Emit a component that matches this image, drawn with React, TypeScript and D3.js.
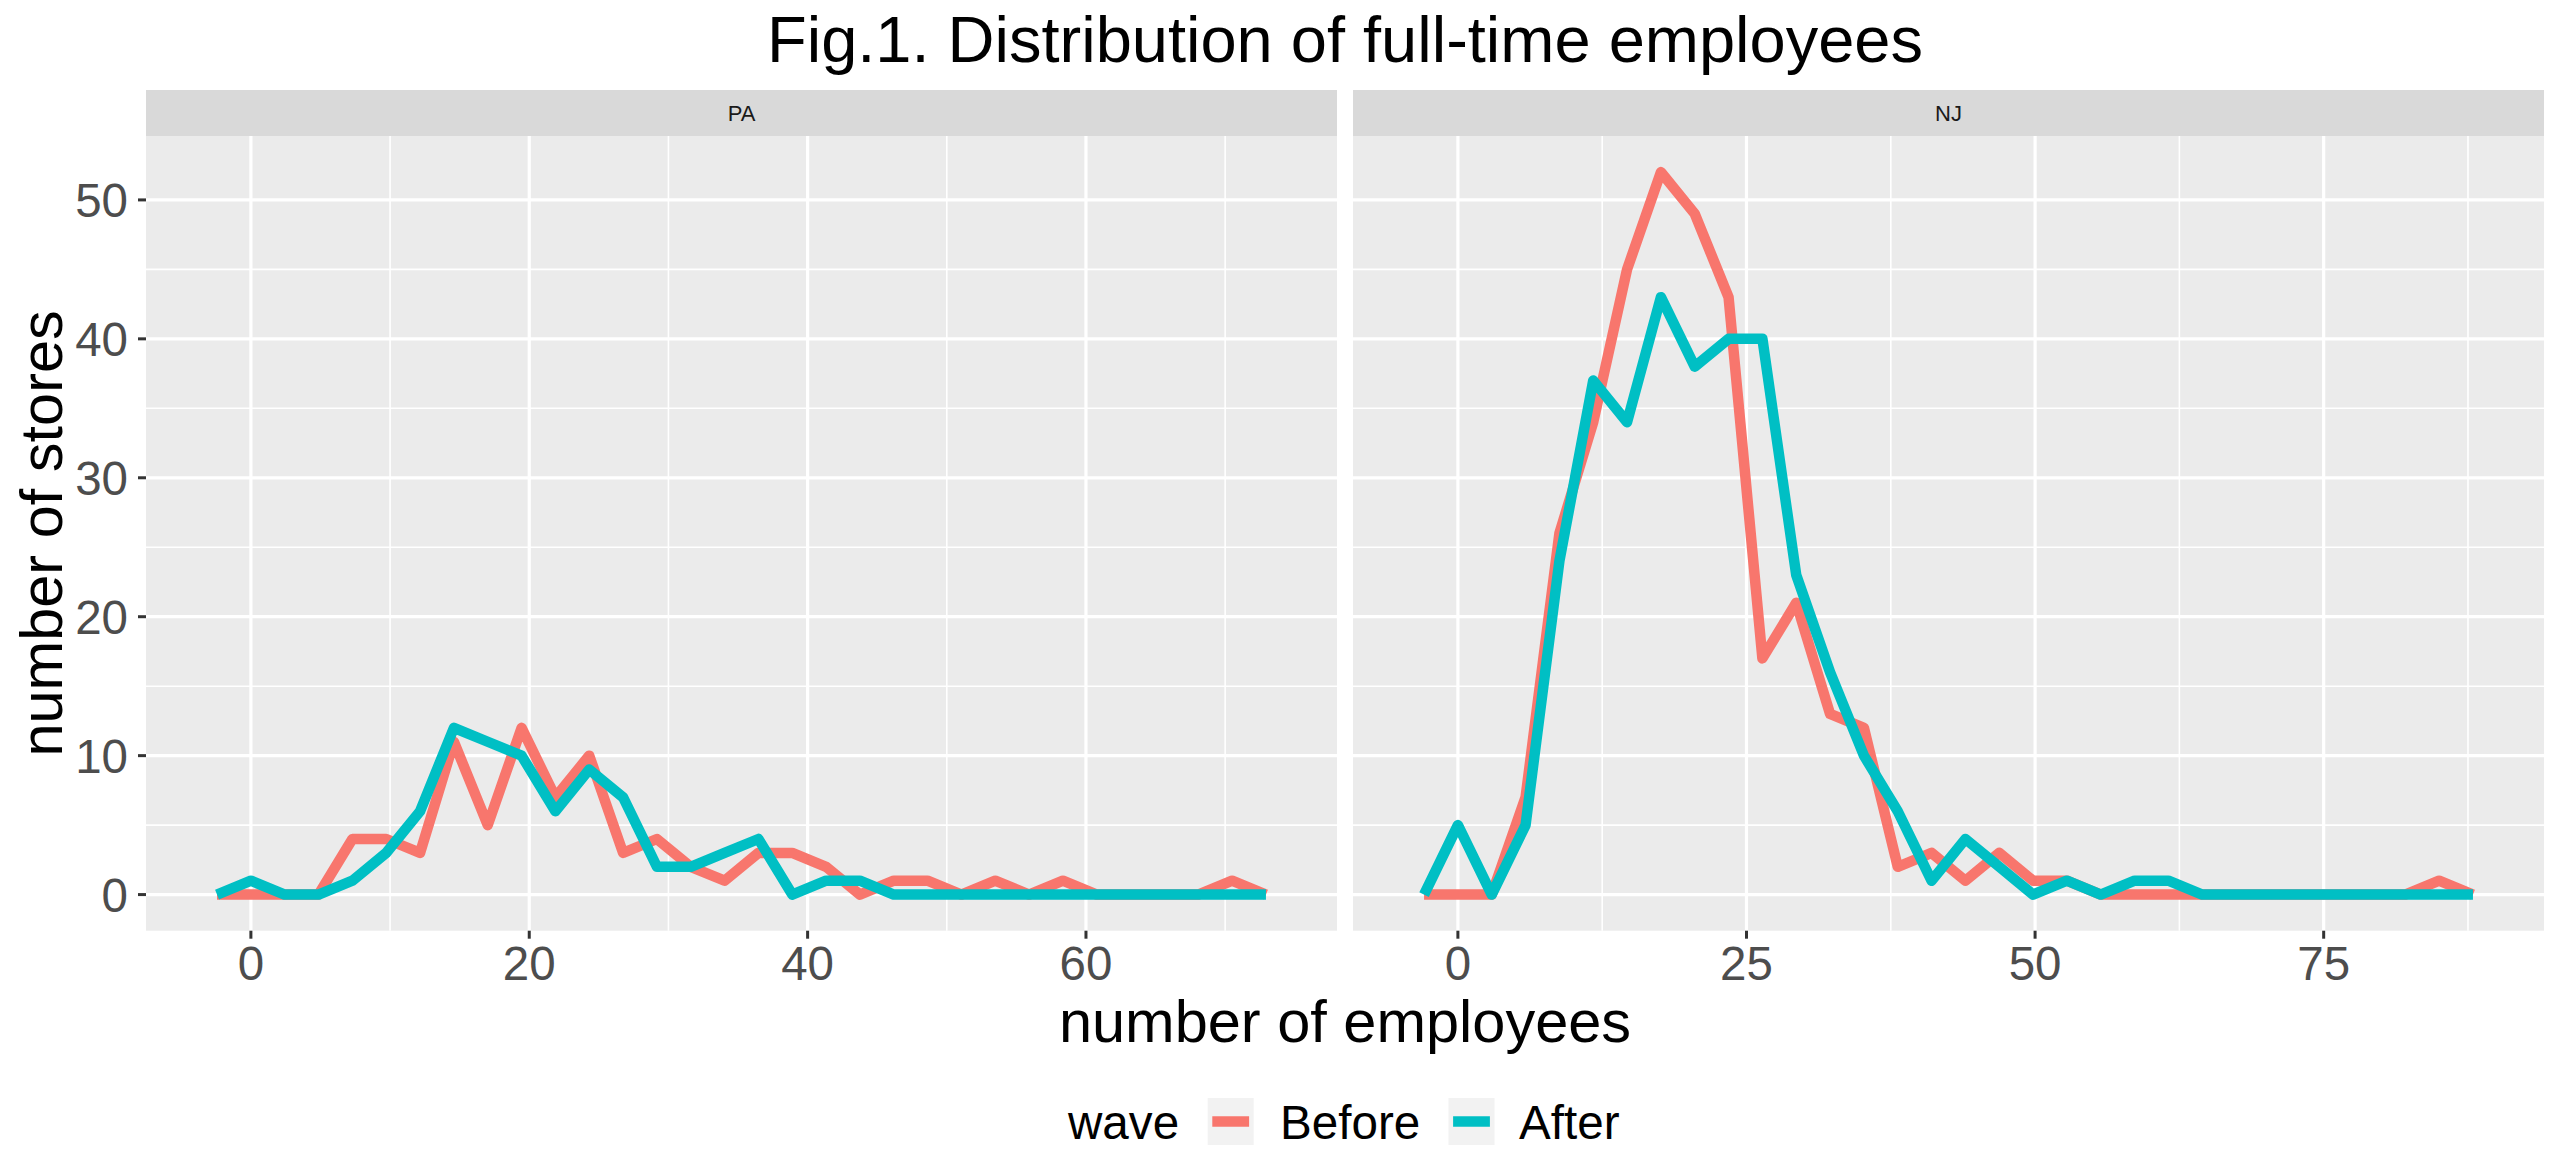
import React from "react";
import * as d3 from "d3";

// ---- data (counts per bin) ----
const WAVES = ["Before", "After"];
const STATES = ["PA", "NJ"];
const PA_RANGE = [0, 70.5];
const NJ_RANGE = [0, 85];
const BINS = 30;
const PA_BEFORE = [0, 0, 0, 0, 4, 4, 3, 11, 5, 12, 7, 10, 3, 4, 2, 1, 3, 3, 2, 0, 1, 1, 0, 1, 0, 1, 0, 0, 0, 0, 1, 0];
const PA_AFTER = [0, 1, 0, 0, 1, 3, 6, 12, 11, 10, 6, 9, 7, 2, 2, 3, 4, 0, 1, 1, 0, 0, 0, 0, 0, 0, 0, 0, 0, 0, 0, 0];
const NJ_BEFORE = [0, 0, 0, 7, 26, 34, 45, 52, 49, 43, 17, 21, 13, 12, 2, 3, 1, 3, 1, 1, 0, 0, 0, 0, 0, 0, 0, 0, 0, 0, 1, 0];
const NJ_AFTER = [0, 5, 0, 5, 24, 37, 34, 43, 38, 40, 40, 23, 16, 10, 6, 1, 4, 2, 0, 1, 0, 1, 1, 0, 0, 0, 0, 0, 0, 0, 0, 0];
const PA_TICKS = [0, 20, 40, 60];
const NJ_TICKS = [0, 25, 50, 75];
const Y_TICKS = [0, 10, 20, 30, 40, 50];

const COLORS = ["#F8766D", "#00BFC4"];
const FONT = "'Liberation Sans', Arial, Helvetica, sans-serif";

// ---- layout ----
const W = 2560;
const H = 1176;
const PANEL_TOP = 136;
const PANEL_BOTTOM = 930.7;
const STRIP_TOP = 90;
const PANELS_X = [
  [146, 1337],
  [1353, 2544],
];

function binCenters(range: number[], n: number) {
  const w = (range[1] - range[0]) / (BINS - 1);
  return d3.range(n).map((i) => range[0] - w + i * w);
}

function xDomain(range: number[]) {
  const w = (range[1] - range[0]) / (BINS - 1);
  const lo = range[0] - 1.5 * w;
  const hi = range[1] + 1.5 * w;
  const e = (hi - lo) * 0.05;
  return [lo - e, hi + e];
}

const PANEL_DATA = [
  { state: STATES[0], range: PA_RANGE, series: [PA_BEFORE, PA_AFTER], ticks: PA_TICKS },
  { state: STATES[1], range: NJ_RANGE, series: [NJ_BEFORE, NJ_AFTER], ticks: NJ_TICKS },
];

export default function App() {
  const yMax = d3.max([...NJ_BEFORE, ...NJ_AFTER, ...PA_BEFORE, ...PA_AFTER]) as number;
  const yPad = yMax * 0.05;
  const y = d3.scaleLinear().domain([0 - yPad, yMax + yPad]).range([PANEL_BOTTOM, PANEL_TOP]);
  const yMinor = Y_TICKS.map((t) => t + 5).filter((t) => t < yMax + yPad);

  const panels = PANEL_DATA.map((p, pi) => {
    const [x0, x1] = PANELS_X[pi];
    const x = d3.scaleLinear().domain(xDomain(p.range)).range([x0, x1]);
    const dom = x.domain();
    const step = p.ticks[1] - p.ticks[0];
    const minor = d3
      .range(p.ticks[0] - step / 2, dom[1], step)
      .filter((t) => t > dom[0] && t < dom[1]);
    const xs = binCenters(p.range, p.series[0].length);
    const line = d3
      .line<number>()
      .x((_, i) => x(xs[i]))
      .y((v) => y(v));
    return { ...p, x, x0, x1, minor, line };
  });

  const titleX = (PANELS_X[0][0] + PANELS_X[1][1]) / 2;
  const midY = (PANEL_TOP + PANEL_BOTTOM) / 2;

  return (
    <div style={{ position: "absolute", left: 0, top: 0, width: W, height: H, overflow: "hidden", background: "#fff" }}>
      <style>{`body{margin:0;}`}</style>
      <svg width={W} height={H} style={{ display: "block", fontFamily: FONT }}>
        <rect x={0} y={0} width={W} height={H} fill="#FFFFFF" />
        <text x={titleX} y={62} textAnchor="middle" fontSize={65} fill="#000">
          Fig.1. Distribution of full-time employees
        </text>

        {panels.map((p, pi) => (
          <g key={p.state}>
            {/* strip */}
            <rect x={p.x0} y={STRIP_TOP} width={p.x1 - p.x0} height={PANEL_TOP - STRIP_TOP} fill="#D9D9D9" />
            <text x={(p.x0 + p.x1) / 2} y={121} textAnchor="middle" fontSize={22} fill="#1A1A1A">
              {p.state}
            </text>
            {/* panel background */}
            <rect x={p.x0} y={PANEL_TOP} width={p.x1 - p.x0} height={PANEL_BOTTOM - PANEL_TOP} fill="#EBEBEB" />
            {/* minor grid */}
            {yMinor.map((t) => (
              <line key={"ym" + t} x1={p.x0} x2={p.x1} y1={y(t)} y2={y(t)} stroke="#FFFFFF" strokeWidth={1.6} />
            ))}
            {p.minor.map((t) => (
              <line key={"xm" + t} x1={p.x(t)} x2={p.x(t)} y1={PANEL_TOP} y2={PANEL_BOTTOM} stroke="#FFFFFF" strokeWidth={1.6} />
            ))}
            {/* major grid */}
            {Y_TICKS.map((t) => (
              <line key={"yM" + t} x1={p.x0} x2={p.x1} y1={y(t)} y2={y(t)} stroke="#FFFFFF" strokeWidth={3.2} />
            ))}
            {p.ticks.map((t) => (
              <line key={"xM" + t} x1={p.x(t)} x2={p.x(t)} y1={PANEL_TOP} y2={PANEL_BOTTOM} stroke="#FFFFFF" strokeWidth={3.2} />
            ))}
            {/* series */}
            <g clipPath={`url(#clip${pi})`}>
              {p.series.map((s, si) => (
                <path
                  key={WAVES[si]}
                  d={p.line(s) || ""}
                  fill="none"
                  stroke={COLORS[si]}
                  strokeWidth={10.5}
                  strokeLinejoin="round"
                  strokeLinecap="butt"
                />
              ))}
            </g>
            <clipPath id={`clip${pi}`}>
              <rect x={p.x0} y={PANEL_TOP} width={p.x1 - p.x0} height={PANEL_BOTTOM - PANEL_TOP} />
            </clipPath>
            {/* x axis */}
            {p.ticks.map((t) => (
              <g key={"xt" + t}>
                <line x1={p.x(t)} x2={p.x(t)} y1={PANEL_BOTTOM} y2={PANEL_BOTTOM + 8} stroke="#333333" strokeWidth={3} />
                <text x={p.x(t)} y={980} textAnchor="middle" fontSize={47.5} fill="#4D4D4D">
                  {t}
                </text>
              </g>
            ))}
          </g>
        ))}

        {/* y axis (left panel only) */}
        {Y_TICKS.map((t) => (
          <g key={"yt" + t}>
            <line x1={PANELS_X[0][0] - 8} x2={PANELS_X[0][0]} y1={y(t)} y2={y(t)} stroke="#333333" strokeWidth={3} />
            <text x={128} y={y(t) + 17} textAnchor="end" fontSize={47.5} fill="#4D4D4D">
              {t}
            </text>
          </g>
        ))}

        {/* axis titles */}
        <text x={titleX} y={1042} textAnchor="middle" fontSize={59.5} fill="#000">
          number of employees
        </text>
        <text transform={`translate(61.7,${midY}) rotate(-90)`} textAnchor="middle" fontSize={59.5} fill="#000">
          number of stores
        </text>

        {/* legend */}
        <text x={1068} y={1139} fontSize={47.6} fill="#000">
          wave
        </text>
        {WAVES.map((wv, i) => {
          const kx = [1207.7, 1448.5][i];
          const tx = [1280, 1519][i];
          return (
            <g key={wv}>
              <rect x={kx} y={1098} width={46} height={47} fill="#F2F2F2" />
              <line x1={kx + 4.6} x2={kx + 46 - 4.6} y1={1121.5} y2={1121.5} stroke={COLORS[i]} strokeWidth={10.5} />
              <text x={tx} y={1139} fontSize={47.6} fill="#000">
                {wv}
              </text>
            </g>
          );
        })}
      </svg>
    </div>
  );
}
